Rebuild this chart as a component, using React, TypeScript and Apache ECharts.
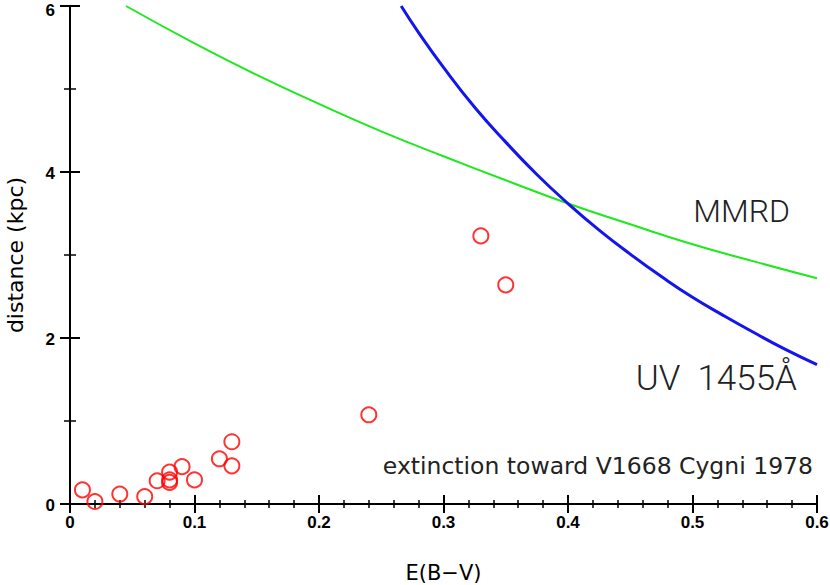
import React, { useEffect, useRef } from "react";
import * as echarts from "echarts";

// Observed extinction vs distance (red circles)
const starEbv = [0.01, 0.02, 0.04, 0.06, 0.07, 0.08, 0.08, 0.08, 0.09, 0.1, 0.12, 0.13, 0.13, 0.24, 0.33, 0.35];
const starDist = [0.17, 0.03, 0.12, 0.09, 0.28, 0.385, 0.29, 0.26, 0.45, 0.29, 0.545, 0.75, 0.46, 1.075, 3.23, 2.64];

// MMRD curve (green)
const mmrdEbv = [0.045, 0.1, 0.15, 0.2, 0.25, 0.3, 0.35, 0.4, 0.45, 0.5, 0.55, 0.6];
const mmrdDist = [6.0, 5.55, 5.17, 4.82, 4.49, 4.19, 3.9, 3.62, 3.37, 3.13, 2.92, 2.72];

// UV 1455Å curve (blue)
const uvEbv = [0.266, 0.28, 0.3, 0.325, 0.35, 0.375, 0.4, 0.425, 0.45, 0.475, 0.5, 0.525, 0.55, 0.575, 0.6];
const uvDist = [6.0, 5.68, 5.26, 4.78, 4.36, 3.97, 3.62, 3.3, 3.01, 2.74, 2.49, 2.27, 2.06, 1.86, 1.68];

const xTicks = [0, 0.1, 0.2, 0.3, 0.4, 0.5, 0.6];
const yTicks = [0, 2, 4, 6];

const zip = (a: number[], b: number[]) => a.map((v, i) => [v, b[i]]);

export default function App() {
  const ref = useRef<HTMLDivElement>(null);
  useEffect(() => {
    if (!ref.current) return;
    const chart = echarts.init(ref.current, null, { renderer: "svg" });
    const axisLine = { show: true, lineStyle: { color: "#000", width: 2 } };
    const noLine = { show: false };
    const tickX = { show: true, inside: true, length: 9, lineStyle: { color: "#000", width: 2 } };
    const tickY = { show: true, inside: true, length: 10, lineStyle: { color: "#000", width: 2 } };
    const minorX = { show: true, inside: true, length: 4, lineStyle: { color: "#000", width: 1.5 } };
    const minorY = { show: true, inside: true, length: 6, lineStyle: { color: "#000", width: 1.5 } };
    const fontFamily = "'DejaVu Sans', sans-serif";
    const tickFont = "'Liberation Sans', Arial, sans-serif";
    const xMin = xTicks[0];
    const xMax = xTicks[xTicks.length - 1];
    const yMin = yTicks[0];
    const yMax = yTicks[yTicks.length - 1];
    const gridBox = { left: 70, right: 13, top: 6, bottom: 81, containLabel: false, outerBoundsMode: "none" };
    const hiddenLabel = { show: false };
    const noSplit = { show: false };
    const tickText = { color: "#000", fontSize: 17, fontWeight: "bold", fontFamily: tickFont };
    chart.setOption({
      animation: false,
      backgroundColor: "#fff",
      grid: [gridBox, { ...gridBox }],
      xAxis: [
        {
          type: "value",
          gridIndex: 0,
          min: xMin,
          max: xMax,
          interval: 0.1,
          axisLine,
          axisTick: tickX,
          splitLine: noSplit,
          axisLabel: { ...tickText, margin: 10, formatter: (v: number) => String(Math.round(v * 10) / 10) },
          name: "E(B\u2212V)",
          nameLocation: "middle",
          nameGap: 58,
          nameTextStyle: { color: "#000", fontSize: 21, fontFamily },
        },
        {
          type: "value",
          gridIndex: 0,
          position: "top",
          min: xMin,
          max: xMax,
          interval: 0.1,
          axisLine,
          axisTick: tickX,
          splitLine: noSplit,
          axisLabel: hiddenLabel,
        },
        {
          type: "value",
          gridIndex: 1,
          position: "bottom",
          min: xMin,
          max: xMax,
          interval: 0.02,
          axisLine: noLine,
          axisTick: minorX,
          splitLine: noSplit,
          axisLabel: hiddenLabel,
        },
        {
          type: "value",
          gridIndex: 1,
          position: "top",
          min: xMin,
          max: xMax,
          interval: 0.02,
          axisLine: noLine,
          axisTick: minorX,
          splitLine: noSplit,
          axisLabel: hiddenLabel,
        },
      ],
      yAxis: [
        {
          type: "value",
          gridIndex: 0,
          min: yMin,
          max: yMax,
          interval: 2,
          axisLine,
          axisTick: tickY,
          splitLine: noSplit,
          axisLabel: {
            ...tickText,
            margin: 15,
            formatter: (v: number) => (v === yMax ? `{top|${v}}` : `{n|${v}}`),
            rich: {
              top: { ...tickText, padding: [9, 0, 0, 0] },
              n: { ...tickText, padding: [3, 0, 0, 0] },
            },
          },
          name: "distance (kpc)",
          nameLocation: "middle",
          nameGap: 44,
          nameTextStyle: { color: "#000", fontSize: 22, fontFamily },
        },
        {
          type: "value",
          gridIndex: 0,
          position: "right",
          min: yMin,
          max: yMax,
          interval: 2,
          axisLine,
          axisTick: tickY,
          splitLine: noSplit,
          axisLabel: hiddenLabel,
        },
        {
          type: "value",
          gridIndex: 1,
          position: "left",
          min: yMin,
          max: yMax,
          interval: 1,
          axisLine: noLine,
          axisTick: minorY,
          splitLine: noSplit,
          axisLabel: hiddenLabel,
        },
        {
          type: "value",
          gridIndex: 1,
          position: "right",
          min: yMin,
          max: yMax,
          interval: 1,
          axisLine: noLine,
          axisTick: minorY,
          splitLine: noSplit,
          axisLabel: hiddenLabel,
        },
      ],
      series: [
        {
          type: "line",
          name: "MMRD",
          xAxisIndex: 0,
          yAxisIndex: 0,
          data: zip(mmrdEbv, mmrdDist),
          smooth: true,
          showSymbol: false,
          clip: true,
          lineStyle: { color: "#1ee81e", width: 2 },
        },
        {
          type: "line",
          name: "UV 1455Å",
          xAxisIndex: 0,
          yAxisIndex: 0,
          data: zip(uvEbv, uvDist),
          smooth: true,
          showSymbol: false,
          clip: true,
          lineStyle: { color: "#1414ee", width: 3 },
        },
        {
          type: "scatter",
          xAxisIndex: 0,
          yAxisIndex: 0,
          data: zip(starEbv, starDist),
          symbol: "circle",
          symbolSize: 15,
          clip: false,
          itemStyle: { color: "rgba(0,0,0,0)", borderColor: "#ff0000", borderWidth: 2 },
        },
      ],
      graphic: [
        {
          type: "text",
          x: 790,
          y: 211,
          style: { text: "MMRD", fontSize: 32, fontFamily: "'Roboto', sans-serif", fontWeight: 300, fill: "#222", align: "right", verticalAlign: "middle" },
        },
        {
          type: "text",
          x: 797,
          y: 378,
          style: { text: "UV  1455Å", fontSize: 35, fontFamily: "'Roboto', sans-serif", fontWeight: 300, fill: "#222", align: "right", verticalAlign: "middle" },
        },
        {
          type: "text",
          x: 813,
          y: 466,
          style: { text: "extinction toward V1668 Cygni 1978", fontSize: 23.5, fontFamily, fill: "#222", align: "right", verticalAlign: "middle" },
        },
      ],
    });
    return () => chart.dispose();
  }, []);
  return <div ref={ref} style={{ position: "fixed", left: 0, top: 0, width: 830, height: 585 }} />;
}
